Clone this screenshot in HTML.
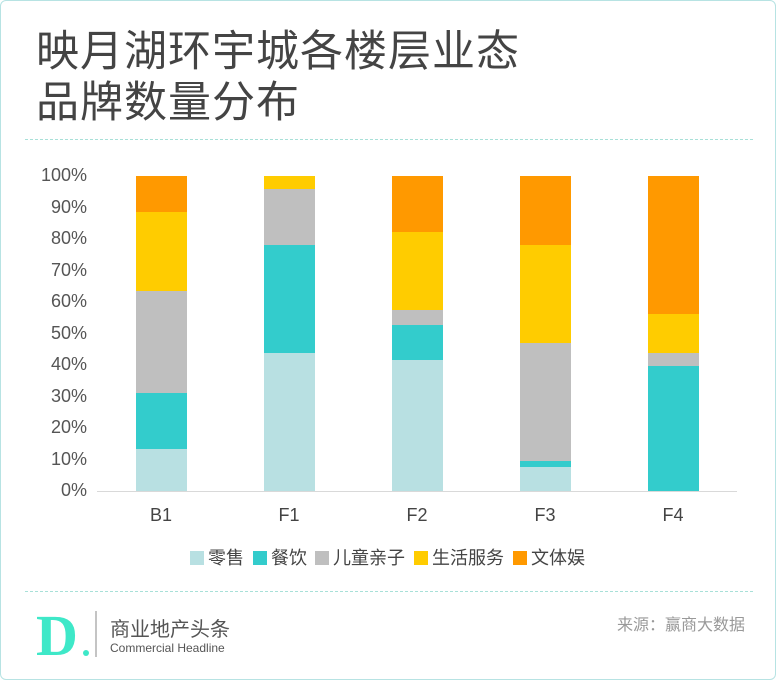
<!DOCTYPE html>
<html><head><meta charset="utf-8"><style>
body{margin:0;background:#fff;}
.card{position:absolute;left:0;top:0;width:774px;height:678px;border:1px solid #b7e3e3;border-radius:6px;background:#fff;overflow:hidden;font-family:"Liberation Sans","Noto Sans CJK SC",sans-serif;}
.t{position:absolute;left:35px;font-size:43px;color:#444;letter-spacing:1px;line-height:1;}
.dash{position:absolute;left:24px;width:728px;border-top:1px dashed #a8e0d8;}
.yl{position:absolute;left:20px;width:66px;text-align:right;font-size:18px;color:#555;}
.xl{position:absolute;width:60px;text-align:center;font-size:18px;color:#444;top:504px;}
.lg{position:absolute;top:543px;font-size:18px;color:#444;}
.sw{display:inline-block;width:14px;height:14px;vertical-align:-1px;margin-right:4px;}
</style></head><body><div class="card">
<div class="t" style="top:30px">映月湖环宇城各楼层业态</div>
<div class="t" style="top:81px">品牌数量分布</div>
<div class="dash" style="top:138px"></div>
<div class="yl" style="top:164px">100%</div>
<div class="yl" style="top:196px">90%</div>
<div class="yl" style="top:227px">80%</div>
<div class="yl" style="top:259px">70%</div>
<div class="yl" style="top:290px">60%</div>
<div class="yl" style="top:322px">50%</div>
<div class="yl" style="top:353px">40%</div>
<div class="yl" style="top:385px">30%</div>
<div class="yl" style="top:416px">20%</div>
<div class="yl" style="top:448px">10%</div>
<div class="yl" style="top:479px">0%</div>
<div style="position:absolute;left:96px;top:490px;width:640px;border-top:1px solid #d9d9d9"></div>
<svg style="position:absolute;left:-1px;top:-1px" width="776" height="680">
<g>
<rect x="136" y="449" width="51" height="42" fill="#b8e0e2"/><rect x="136" y="393" width="51" height="56" fill="#33cccc"/><rect x="136" y="291" width="51" height="102" fill="#bfbfbf"/><rect x="136" y="212" width="51" height="79" fill="#ffcc00"/><rect x="136" y="176" width="51" height="36" fill="#ff9900"/>
<rect x="264" y="353" width="51" height="138" fill="#b8e0e2"/><rect x="264" y="245" width="51" height="108" fill="#33cccc"/><rect x="264" y="189" width="51" height="56" fill="#bfbfbf"/><rect x="264" y="176" width="51" height="13" fill="#ffcc00"/>
<rect x="392" y="360" width="51" height="131" fill="#b8e0e2"/><rect x="392" y="325" width="51" height="35" fill="#33cccc"/><rect x="392" y="310" width="51" height="15" fill="#bfbfbf"/><rect x="392" y="232" width="51" height="78" fill="#ffcc00"/><rect x="392" y="176" width="51" height="56" fill="#ff9900"/>
<rect x="520" y="467" width="51" height="24" fill="#b8e0e2"/><rect x="520" y="461" width="51" height="6" fill="#33cccc"/><rect x="520" y="343" width="51" height="118" fill="#bfbfbf"/><rect x="520" y="245" width="51" height="98" fill="#ffcc00"/><rect x="520" y="176" width="51" height="69" fill="#ff9900"/>
<rect x="648" y="366" width="51" height="125" fill="#33cccc"/><rect x="648" y="353" width="51" height="13" fill="#bfbfbf"/><rect x="648" y="314" width="51" height="39" fill="#ffcc00"/><rect x="648" y="176" width="51" height="138" fill="#ff9900"/>
</g>
<text x="36" y="655" font-family="Liberation Serif,serif" font-size="58" font-weight="bold" fill="#3ee8c8">D</text>
<circle cx="86" cy="653" r="3" fill="#3ee8c8"/>
<line x1="96" y1="611" x2="96" y2="657" stroke="#888" stroke-width="1"/>
</svg>
<div class="xl" style="left:130px">B1</div>
<div class="xl" style="left:258px">F1</div>
<div class="xl" style="left:386px">F2</div>
<div class="xl" style="left:514px">F3</div>
<div class="xl" style="left:642px">F4</div>
<div class="lg" style="left:189px"><span class="sw" style="background:#b8e0e2"></span>零售</div>
<div class="lg" style="left:252px"><span class="sw" style="background:#33cccc"></span>餐饮</div>
<div class="lg" style="left:314px"><span class="sw" style="background:#bfbfbf"></span>儿童亲子</div>
<div class="lg" style="left:413px"><span class="sw" style="background:#ffcc00"></span>生活服务</div>
<div class="lg" style="left:512px"><span class="sw" style="background:#ff9900"></span>文体娱</div>
<div class="dash" style="top:590px"></div>
<div style="position:absolute;left:109px;top:618px;font-size:20px;line-height:22px;color:#555">商业地产头条</div>
<div style="position:absolute;left:109px;top:640px;font-size:12px;line-height:14px;color:#555">Commercial Headline</div>
<div style="position:absolute;left:616px;top:610px;font-size:16px;color:#999">来源：赢商大数据</div>
</div></body></html>
